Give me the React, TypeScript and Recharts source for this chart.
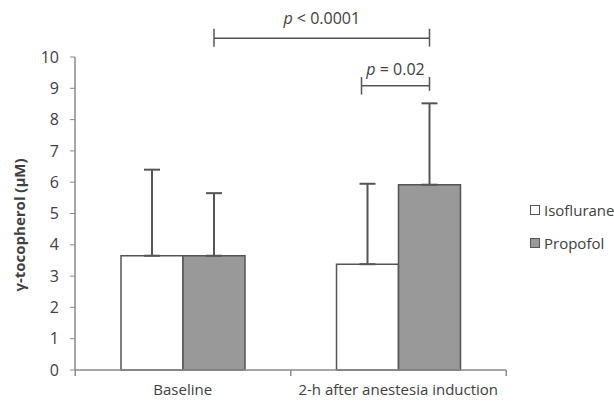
import React from "react";
import { BarChart, Bar, XAxis, YAxis, ErrorBar, LabelList } from "recharts";

if (typeof document !== "undefined") document.body.style.margin = "0";

const categories = ["Baseline", "2-h after anestesia induction"];
const isoflurane = [3.65, 3.38];
const propofol = [3.65, 5.92];
const isoflurane_sd = [2.75, 2.57];
const propofol_sd = [2.0, 2.6];
const yTicks = [0, 1, 2, 3, 4, 5, 6, 7, 8, 9, 10];

const data = categories.map((name, i) => ({
  name,
  isoflurane: isoflurane[i],
  propofol: propofol[i],
  isoErr: [0, isoflurane_sd[i]],
  propErr: [0, propofol_sd[i]],
}));

const W = 614;
const H = 403;
const MARGIN = { top: 57, right: 108, bottom: 3, left: 30 };
const Y_AXIS_W = 45;
// width of one category band on the x axis
const BAND = (W - MARGIN.left - MARGIN.right - Y_AXIS_W) / categories.length;

const FONT = "Open Sans, Liberation Sans, sans-serif";
const AXIS = "#8a8a8a";
const TEXT = "#404040";
const EDGE = "#555555";

// separator ticks between categories, under the axis (anchored on isoflurane bars)
function SeparatorTicks(props: any) {
  const { x, width, y, height, index } = props;
  const groupCenter = x + width;
  const base = y + height;
  const xs = [groupCenter - BAND / 2];
  if (index === categories.length - 1) xs.push(groupCenter + BAND / 2);
  return (
    <g>
      {xs.map((sx) => (
        <line key={sx} x1={sx} x2={sx} y1={base} y2={base + 6} stroke={AXIS} strokeWidth={1.5} />
      ))}
    </g>
  );
}

function PText({ x, y, rest }: { x: number; y: number; rest: string }) {
  return (
    <text x={x} y={y} textAnchor="middle" fontSize={16} fill={TEXT} fontFamily={FONT}>
      <tspan fontStyle="italic">p</tspan>
      {rest}
    </text>
  );
}

// significance brackets, anchored on the second propofol bar
function Brackets(props: any) {
  const { x, width, y, height, value, index } = props;
  if (index !== 1) return null;
  const base = y + height;
  const perUnit = height / value;
  const py = (v: number) => base - v * perUnit;
  const right = x + width / 2;
  const left1 = right - BAND;
  const left2 = x - width / 2 - 6;
  const s = { stroke: EDGE, strokeWidth: 1.5 };
  return (
    <g>
      <line x1={left1} x2={right} y1={py(10.6)} y2={py(10.6)} {...s} />
      <line x1={left1} x2={left1} y1={py(10.9)} y2={py(10.33)} {...s} />
      <line x1={right} x2={right} y1={py(10.9)} y2={py(10.33)} {...s} />
      <PText x={(left1 + right) / 2} y={py(10.6) - 14} rest=" < 0.0001" />
      <line x1={left2} x2={right} y1={py(9.08)} y2={py(9.08)} {...s} />
      <line x1={left2} x2={left2} y1={py(9.36)} y2={py(8.8)} {...s} />
      <line x1={right} x2={right} y1={py(9.36)} y2={py(8.92)} {...s} />
      <PText x={(left2 + right) / 2} y={py(9.08) - 11} rest=" = 0.02" />
    </g>
  );
}

function LegendBox() {
  const items = [
    { label: "Isoflurane", fill: "#ffffff" },
    { label: "Propofol", fill: "#999999" },
  ];
  return (
    <div
      style={{
        position: "absolute",
        left: 530,
        top: 193,
        fontFamily: FONT,
        fontSize: 15,
        color: TEXT,
        whiteSpace: "nowrap",
      }}
    >
      {items.map((it) => (
        <div key={it.label} style={{ display: "flex", alignItems: "center", height: 33 }}>
          <span
            style={{
              width: 8,
              height: 8,
              border: `1.5px solid ${EDGE}`,
              background: it.fill,
              marginRight: 4,
              display: "inline-block",
            }}
          />
          {it.label}
        </div>
      ))}
    </div>
  );
}

export default function App() {
  return (
    <div style={{ position: "relative", width: W, height: H, background: "#fff" }}>
      <BarChart width={W} height={H} data={data} margin={MARGIN} barGap={0} barSize={62}>
        <XAxis
          dataKey="name"
          axisLine={{ stroke: AXIS, strokeWidth: 1.5 }}
          tickLine={false}
          height={30}
          tick={{ fontSize: 15, fill: TEXT, fontFamily: FONT }}
          tickMargin={8}
        />
        <YAxis
          domain={[0, 10]}
          ticks={yTicks}
          width={Y_AXIS_W}
          axisLine={{ stroke: AXIS, strokeWidth: 1.5 }}
          tickLine={{ stroke: AXIS }}
          tickSize={5}
          tickMargin={11}
          tick={{ fontSize: 16, fill: TEXT, fontFamily: FONT }}
          label={{
            content: () => (
              <text
                x={25}
                y={225}
                transform="rotate(-90, 25, 225)"
                textAnchor="middle"
                fontSize={15}
                fontWeight={700}
                fill={TEXT}
                fontFamily={FONT}
              >
                γ-tocopherol (μM)
              </text>
            ),
          }}
        />
        <Bar dataKey="isoflurane" fill="#ffffff" stroke={EDGE} strokeWidth={1.5} isAnimationActive={false}>
          <ErrorBar dataKey="isoErr" width={8} stroke={EDGE} strokeWidth={2} direction="y" />
          <LabelList dataKey="isoflurane" content={SeparatorTicks} />
        </Bar>
        <Bar dataKey="propofol" fill="#999999" stroke={EDGE} strokeWidth={1.5} isAnimationActive={false}>
          <ErrorBar dataKey="propErr" width={8} stroke={EDGE} strokeWidth={2} direction="y" />
          <LabelList dataKey="propofol" content={Brackets} />
        </Bar>
      </BarChart>
      <LegendBox />
    </div>
  );
}
